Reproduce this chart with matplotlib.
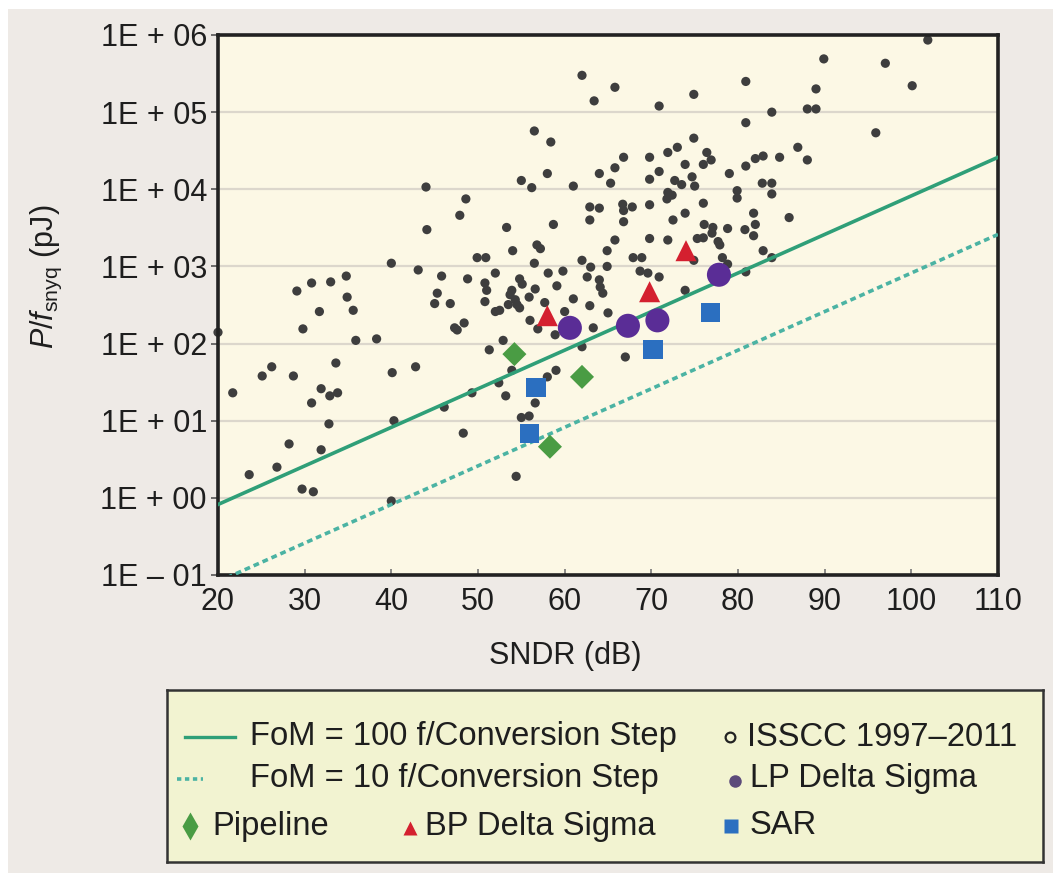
import matplotlib
matplotlib.use("Agg")
import matplotlib.pyplot as plt
from matplotlib import font_manager as fm
from matplotlib.patches import Rectangle

# ---------------- data ----------------
issc_sndr_db = [
    62.0, 63.4, 65.8, 56.5, 58.4, 58.0, 64.0, 55.0, 56.2, 61.0,
    44.0, 48.6, 47.9, 44.1, 53.3, 58.7, 62.9, 64.0, 62.9, 65.8,
    65.3, 65.8, 54.0, 56.8, 57.2, 62.0, 63.0, 64.9, 64.9, 49.9,
    50.9, 40.0, 43.1, 45.8, 48.8, 52.0, 54.8, 55.1, 56.5, 58.1,
    59.8, 62.6, 59.1, 50.8, 51.0, 53.9, 53.7, 54.3, 56.6, 64.0,
    64.1, 64.4, 29.1, 30.8, 33.0, 34.8, 34.9, 45.3, 45.0, 46.8,
    50.8, 53.5, 54.5, 54.8, 55.9, 57.7, 61.0, 62.9, 52.0, 52.5,
    60.0, 65.0, 35.6, 31.7, 29.8, 47.3, 47.6, 48.4, 56.0, 56.9,
    58.9, 63.3, 20.0, 52.9, 51.3, 62.0, 35.9, 38.3, 40.1, 42.8,
    26.2, 25.1, 28.7, 33.6, 31.9, 32.9, 33.8, 21.7, 30.8, 32.8,
    40.3, 46.1, 49.3, 52.4, 53.2, 53.9, 58.0, 59.0, 56.6, 55.0,
    55.9, 48.3, 28.2, 31.9, 26.8, 23.6, 29.7, 31.0, 40.0, 54.4,
    89.9, 97.0, 100.1, 89.0, 80.9, 74.9, 70.9, 83.9, 88.0, 89.0,
    80.9, 95.9, 101.9, 74.9, 73.0, 71.9, 69.8, 66.8, 76.4, 76.9,
    76.0, 73.9, 70.9, 80.9, 82.0, 82.9, 84.8, 86.9, 88.0, 79.0,
    69.8, 72.7, 73.5, 74.7, 75.0, 71.9, 71.8, 72.4, 82.8, 83.9,
    83.9, 79.9, 79.9, 66.7, 67.8, 66.8, 69.8, 76.0, 73.9, 72.5,
    66.8, 81.8, 85.9, 76.1, 77.1, 77.0, 78.8, 80.8, 82.0, 81.8,
    69.8, 71.9, 75.3, 76.0, 77.7, 67.9, 68.9, 68.7, 69.6, 70.9,
    74.9, 78.2, 78.8, 80.9, 82.9, 83.9, 73.9, 67.0, 77.9,
]
issc_pj = [
    3.0e5, 1.4e5, 2.1e5, 5.7e4, 4.1e4, 1.6e4, 1.6e4, 1.3e4, 1.05e4, 1.1e4,
    1.07e4, 7.5e3, 4.6e3, 3.0e3, 3.2e3, 3.5e3, 5.9e3, 5.7e3, 4.0e3, 1.9e4,
    1.2e4, 2.2e3, 1.6e3, 1.9e3, 1.7e3, 1.2e3, 9.8e2, 1.6e3, 1.0e3, 1.3e3,
    1.3e3, 1.1e3, 9.0e2, 7.5e2, 6.9e2, 8.2e2, 6.9e2, 5.9e2, 1.1e3, 8.2e2,
    8.7e2, 7.3e2, 5.6e2, 6.1e2, 4.9e2, 4.9e2, 4.3e2, 3.7e2, 5.1e2, 6.7e2,
    5.4e2, 4.5e2, 4.8e2, 6.1e2, 6.3e2, 7.5e2, 4.0e2, 4.5e2, 3.3e2, 3.3e2,
    3.5e2, 3.2e2, 3.2e2, 2.9e2, 4.0e2, 3.4e2, 3.8e2, 3.1e2, 2.6e2, 2.7e2,
    2.6e2, 2.5e2, 2.7e2, 2.6e2, 1.55e2, 1.6e2, 1.5e2, 1.85e2, 2.0e2, 1.55e2,
    1.3e2, 1.6e2, 1.4e2, 1.1e2, 83, 91, 1.1e2, 1.15e2, 42, 50,
    50, 38, 38, 56, 26, 21, 23, 23, 17, 9.1,
    10, 15, 23, 31, 21, 45, 37, 45, 17, 11,
    11.5, 6.9, 5.0, 4.2, 2.5, 2.0, 1.3, 1.2, 0.91, 1.9,
    4.9e5, 4.3e5, 2.2e5, 2.0e5, 2.5e5, 1.7e5, 1.2e5, 1.0e5, 1.1e5, 1.1e5,
    7.3e4, 5.4e4, 8.6e5, 4.6e4, 3.5e4, 3.0e4, 2.6e4, 2.6e4, 3.0e4, 2.4e4,
    2.1e4, 2.1e4, 1.7e4, 2.0e4, 2.5e4, 2.7e4, 2.6e4, 3.5e4, 2.4e4, 1.6e4,
    1.35e4, 1.3e4, 1.15e4, 1.45e4, 1.1e4, 9.1e3, 7.5e3, 8.4e3, 1.2e4, 1.2e4,
    8.7e3, 9.6e3, 7.7e3, 6.4e3, 5.9e3, 5.3e3, 6.3e3, 6.6e3, 4.9e3, 4.0e3,
    3.8e3, 4.9e3, 4.3e3, 3.5e3, 3.2e3, 2.7e3, 3.1e3, 3.0e3, 3.5e3, 2.5e3,
    2.3e3, 2.2e3, 2.3e3, 2.35e3, 2.1e3, 1.3e3, 1.3e3, 8.7e2, 8.2e2, 7.3e2,
    1.2e3, 1.3e3, 1.07e3, 8.5e2, 1.6e3, 1.3e3, 4.9e2, 67, 1.9e3,
]

pipeline_sndr_db = [54.2, 62.0, 58.3]
pipeline_pj = [73, 37, 4.6]

bp_ds_sndr_db = [58.0, 69.8, 74.0]
bp_ds_pj = [230, 470, 1600]

lp_ds_sndr_db = [60.6, 67.3, 70.7, 77.8]
lp_ds_pj = [160, 170, 200, 780]

sar_sndr_db = [56.7, 55.9, 70.2, 76.8]
sar_pj = [27, 6.9, 83, 250]

fom_sndr_db = [20, 110]
fom100_pj = [0.82, 2.6e4]
fom10_pj = [0.082, 2.6e3]

y_tick_values = [1e-1, 1e0, 1e1, 1e2, 1e3, 1e4, 1e5, 1e6]
y_tick_labels = ["1E \u2013 01", "1E + 00", "1E + 01", "1E + 02",
                 "1E + 03", "1E + 04", "1E + 05", "1E + 06"]
x_ticks = [20, 30, 40, 50, 60, 70, 80, 90, 100, 110]

legend_labels = ["FoM = 100 f/Conversion Step", "FoM = 10 f/Conversion Step",
                 "ISSCC 1997\u20132011", "LP Delta Sigma",
                 "Pipeline", "BP Delta Sigma", "SAR"]

# ---------------- styling ----------------
names = {f.name for f in fm.fontManager.ttflist}
base_font = "Liberation Sans" if "Liberation Sans" in names else "DejaVu Sans"
narrow_font = "Liberation Sans Narrow" if "Liberation Sans Narrow" in names else None

plt.rcParams["font.family"] = [base_font, "DejaVu Sans"]
plt.rcParams["mathtext.fontset"] = "custom"
plt.rcParams["mathtext.rm"] = base_font
plt.rcParams["mathtext.it"] = base_font + ":italic"

TXT = "#1e1e1e"
C_GREEN_LINE = "#2f9f78"
C_DASH_LINE = "#4bb3a3"
C_DOT = "#3e3e3e"
C_PIPE = "#4a9c44"
C_BP = "#d4202f"
C_LP = "#5a2d96"
C_SAR = "#2b6fc0"

W, H = 1053, 873
fig = plt.figure(figsize=(W / 100, H / 100), dpi=100, facecolor="white")
# grey panel
fig.patches.append(Rectangle((8 / W, 0), 1 - 8 / W, 1 - 9 / H, transform=fig.transFigure,
                             facecolor="#eeeae6", edgecolor="none", zorder=-10))

ax = fig.add_axes([218 / W, 1 - 575 / H, 780 / W, 540 / H])
ax.set_facecolor("#fcf8e5")
ax.set_yscale("log")
ax.set_xlim(20, 110)
ax.set_ylim(1e-1, 1e6)

for yv in y_tick_values[1:-1]:
    ax.axhline(yv, color="#dcd7cc", lw=1.6, zorder=0.5)

ax.scatter(issc_sndr_db, issc_pj, s=44, color=C_DOT, edgecolors="none", zorder=2, clip_on=False)
ax.plot(fom_sndr_db, fom100_pj, color=C_GREEN_LINE, lw=2.6, zorder=3)
ax.plot(fom_sndr_db, fom10_pj, color=C_DASH_LINE, lw=2.6, ls=(0, (1.6, 1.1)), zorder=3)

ax.scatter(pipeline_sndr_db, pipeline_pj, marker="D", s=150, color=C_PIPE, edgecolors="none", zorder=4)
ax.scatter(bp_ds_sndr_db, bp_ds_pj, marker="^", s=230, color=C_BP, edgecolors="none", zorder=4)
ax.scatter(lp_ds_sndr_db, lp_ds_pj, marker="o", s=300, color=C_LP, edgecolors="none", zorder=4)
ax.scatter(sar_sndr_db, sar_pj, marker="s", s=190, color=C_SAR, edgecolors="none", zorder=4)

for sp in ax.spines.values():
    sp.set_linewidth(2.6)
    sp.set_color("#222222")

ax.set_yticks(y_tick_values)
ax.set_yticklabels(y_tick_labels)
ax.minorticks_off()
ax.set_xticks(x_ticks)
ax.set_xticklabels([str(v) for v in x_ticks])
ax.tick_params(axis="y", direction="out", length=5, width=1.2, color="#555555",
               labelsize=22, labelcolor=TXT, pad=3)
ax.tick_params(axis="x", direction="in", length=4, width=1.2, color="#777777",
               labelsize=22, labelcolor=TXT, pad=9)

ax.set_xlabel("SNDR (dB)", fontsize=22, color=TXT)
ax.xaxis.set_label_coords(0.445, -0.122)
ax.set_ylabel(r"$P/f_{\mathrm{snyq}}$ (pJ)", fontsize=22, color=TXT)
ax.yaxis.set_label_coords(-0.197, 0.552)

# ---------------- legend box ----------------
lx0, ly0, lx1, ly1 = 167, 690, 1043, 862
lax = fig.add_axes([lx0 / W, 1 - ly1 / H, (lx1 - lx0) / W, (ly1 - ly0) / H])
lax.set_xlim(0, lx1 - lx0)
lax.set_ylim(ly1 - ly0, 0)
lax.set_facecolor("#f2f3d1")
lax.set_xticks([])
lax.set_yticks([])
for sp in lax.spines.values():
    sp.set_linewidth(1.8)
    sp.set_color("#333333")

if narrow_font:
    lfont = dict(family=[narrow_font, base_font], fontsize=28)
else:
    lfont = dict(family=[base_font], fontsize=23.6)

r1, r2, r3 = 47, 89, 136
lax.plot([18, 68], [r1, r1], color=C_GREEN_LINE, lw=2.4)
lax.text(83, r1, legend_labels[0], va="center", ha="left", color=TXT, **lfont)
lax.plot([10, 36], [r2, r2], color=C_DASH_LINE, lw=2.6, ls=(0, (1.2, 1.0)))
lax.text(83, r2, legend_labels[1], va="center", ha="left", color=TXT, **lfont)
lax.plot([563], [r1], marker="o", ms=7, mfc="none", mec="#222222", mew=1.6)
lax.text(580, r1, legend_labels[2], va="center", ha="left", color=TXT, **lfont)
lax.plot([568], [r2 + 2], marker="o", ms=9, color="#5c4a7a", mec="none")
lax.text(583, r2, legend_labels[3], va="center", ha="left", color=TXT, **lfont)
lax.plot([23], [r3], marker="d", ms=14, color=C_PIPE, mec="none")
lax.text(45, r3, legend_labels[4], va="center", ha="left", color=TXT, **lfont)
lax.plot([243], [r3 + 2], marker="^", ms=10, color=C_BP, mec="none")
lax.text(258, r3, legend_labels[5], va="center", ha="left", color=TXT, **lfont)
lax.plot([564], [r3], marker="s", ms=10, color=C_SAR, mec="none")
lax.text(583, r3, legend_labels[6], va="center", ha="left", color=TXT, **lfont)

fig.savefig("out.png", dpi=100, facecolor=fig.get_facecolor())
